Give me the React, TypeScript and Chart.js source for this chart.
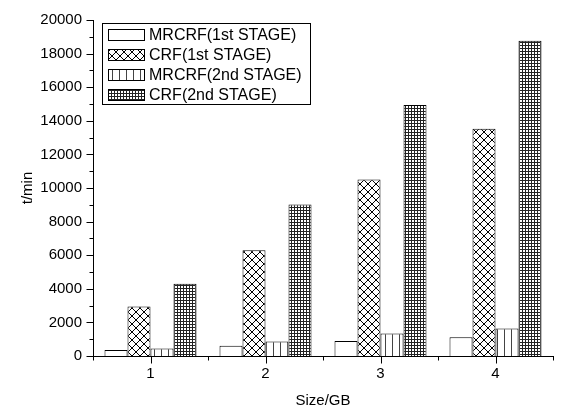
import React, { useEffect, useRef } from "react";
import { Chart, registerables } from "chart.js";

Chart.register(...registerables);

const categories = ["1", "2", "3", "4"];
const seriesNames = ["MRCRF(1st STAGE)", "CRF(1st STAGE)", "MRCRF(2nd STAGE)", "CRF(2nd STAGE)"];
const mrcrf1 = [350, 610, 900, 1120];
const crf1 = [2950, 6290, 10500, 13530];
const mrcrf2 = [450, 870, 1340, 1630];
const crf2 = [4300, 9020, 14940, 18760];
const yMax = 20000;
const yStep = 2000;
const xTitle = "Size/GB";
const yTitle = "t/min";

const FONT = "'Liberation Sans', Arial, sans-serif";

function makePattern(kind: string): CanvasPattern | string {
  const c = document.createElement("canvas");
  const ctx = c.getContext("2d")!;
  if (kind === "blank") return "#ffffff";
  if (kind === "cross") {
    const p = 8;
    c.width = p; c.height = p;
    ctx.fillStyle = "#fff"; ctx.fillRect(0, 0, p, p);
    ctx.strokeStyle = "#000"; ctx.lineWidth = 1;
    ctx.beginPath();
    ctx.moveTo(-1, -1); ctx.lineTo(p + 1, p + 1);
    ctx.moveTo(p + 1, -1); ctx.lineTo(-1, p + 1);
    ctx.stroke();
  } else if (kind === "vert") {
    const p = 7;
    c.width = p; c.height = p;
    ctx.fillStyle = "#fff"; ctx.fillRect(0, 0, p, p);
    ctx.fillStyle = "#444"; ctx.fillRect(0, 0, 1, p);
  } else {
    const p = 3;
    c.width = p; c.height = p;
    ctx.fillStyle = "#fff"; ctx.fillRect(0, 0, p, p);
    ctx.fillStyle = "#222"; ctx.fillRect(0, 0, 1, p); ctx.fillRect(0, 0, p, 1);
  }
  return ctx.createPattern(c, "repeat")!;
}

export default function App() {
  const ref = useRef<HTMLCanvasElement>(null);
  useEffect(() => {
    document.body.style.margin = "0";
    const fills = [makePattern("blank"), makePattern("cross"), makePattern("vert"), makePattern("grid")];
    const values = [mrcrf1, crf1, mrcrf2, crf2];

    const ticksPlugin = {
      id: "ticksAndLegend",
      afterDraw(chart: any) {
        const ctx = chart.ctx;
        const x = chart.scales.x;
        const y = chart.scales.y;
        const ca = chart.chartArea;
        ctx.save();
        ctx.strokeStyle = "#000";
        ctx.lineWidth = 1;
        ctx.beginPath();
        const left = Math.round(ca.left) + 0.5;
        const bottom = Math.round(ca.bottom) + 0.5;
        for (let v = 0; v <= yMax; v += yStep / 2) {
          const py = Math.round(y.getPixelForValue(v)) + 0.5;
          const len = v % yStep === 0 ? 7 : 4;
          ctx.moveTo(left - len, py);
          ctx.lineTo(left, py);
        }
        for (let i = 0; i < categories.length; i++) {
          const px = Math.round(x.getPixelForValue(i)) + 0.5;
          ctx.moveTo(px, bottom); ctx.lineTo(px, bottom + 7);
        }
        const n = categories.length;
        const step = (ca.right - ca.left) / n;
        for (let i = 0; i <= n; i++) {
          const px = Math.round(ca.left + i * step) + 0.5;
          ctx.moveTo(px, bottom); ctx.lineTo(px, bottom + 4);
        }
        ctx.stroke();

        // legend box
        const bx = 102.5, by = 23.5, bw = 208, bh = 81;
        ctx.fillStyle = "#fff";
        ctx.fillRect(bx, by, bw, bh);
        ctx.strokeRect(bx, by, bw, bh);
        ctx.font = "16px " + FONT;
        ctx.textBaseline = "middle";
        ctx.textAlign = "left";
        for (let i = 0; i < seriesNames.length; i++) {
          const sy = 29 + i * 20;
          ctx.fillStyle = fills[i] as any;
          ctx.fillRect(108, sy, 37, 12);
          ctx.strokeStyle = "#000";
          ctx.strokeRect(108.5, sy + 0.5, 36, 11);
          ctx.fillStyle = "#000";
          ctx.fillText(seriesNames[i], 149, sy + 6.5);
        }
        ctx.restore();
      },
    };

    const chart = new Chart(ref.current!, {
      type: "bar",
      data: {
        labels: categories,
        datasets: seriesNames.map((name, i) => ({
          label: name,
          data: values[i],
          backgroundColor: fills[i] as any,
          borderColor: "#000",
          borderWidth: 1,
          categoryPercentage: 0.8,
          barPercentage: 1.0,
        })),
      },
      options: {
        responsive: false,
        animation: false,
        layout: { padding: { top: 16, right: 11, left: 0, bottom: 0 } },
        plugins: { legend: { display: false }, tooltip: { enabled: false } },
        scales: {
          x: {
            grid: { display: false, drawTicks: false },
            border: { display: true, color: "#000", width: 1 },
            ticks: { color: "#000", font: { family: FONT, size: 15 }, padding: 9 },
            title: {
              display: true, text: xTitle, color: "#000",
              font: { family: FONT, size: 15, lineHeight: 1 },
              padding: { top: 0, bottom: 0 },
            },
            afterFit: (s: any) => { s.height = 52; },
          },
          y: {
            min: 0, max: yMax,
            grid: { display: false, drawTicks: false },
            border: { display: true, color: "#000", width: 1 },
            ticks: {
              stepSize: yStep, color: "#000", font: { family: FONT, size: 15 }, padding: 11,
              callback: (v: any) => String(v),
            },
            title: {
              display: true, text: yTitle, color: "#000",
              font: { family: FONT, size: 15, lineHeight: 1 },
              padding: { top: 20, bottom: 0 },
            },
            afterFit: (s: any) => { s.width = 93; },
          },
        },
      },
      plugins: [ticksPlugin],
    });
    return () => chart.destroy();
  }, []);
  return <canvas ref={ref} width={564} height={408} style={{ display: "block" }} />;
}
